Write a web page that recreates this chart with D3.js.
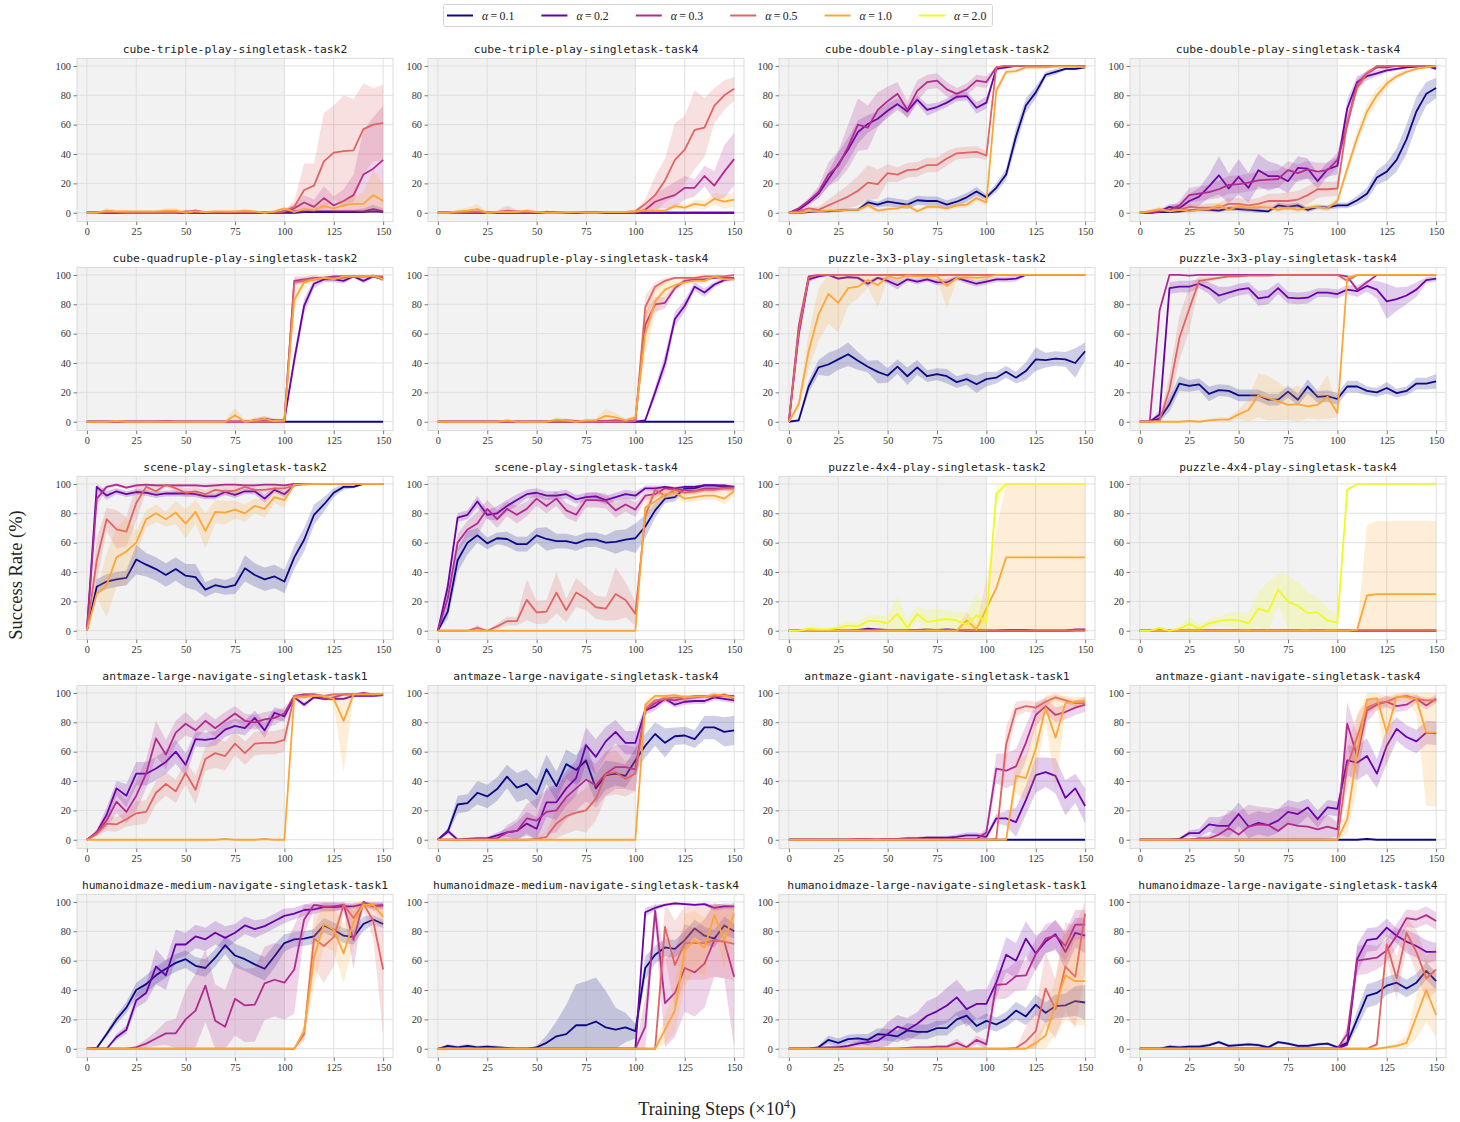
<!DOCTYPE html>
<html>
<head>
<meta charset="utf-8">
<script src="https://cdn.jsdelivr.net/npm/d3@7"></script>
<style>
  body { margin: 0; background: #ffffff; }
  svg { display: block; }
</style>
</head>
<body>
<svg id="fig" width="1460" height="1122"></svg>
<script>
// ---- shared axes content ----
const steps = [0,5,10,15,20,25,30,35,40,45, 50,55,60,65,70,75,80,85,90,95, 100,105,110,115,120,125,130,135,140,145, 150];
const alphaLabels = ["0.1","0.2","0.3","0.5","1.0","2.0"];
const seriesColors = ["#0d0887","#6a00a8","#b12a90","#e16462","#fca636","#f0f921"];
const xTicks = [0,25,50,75,100,125,150];
const yTicks = [0,20,40,60,80,100];
const panelTitles = [
  "cube-triple-play-singletask-task2","cube-triple-play-singletask-task4",
  "cube-double-play-singletask-task2","cube-double-play-singletask-task4",
  "cube-quadruple-play-singletask-task2","cube-quadruple-play-singletask-task4",
  "puzzle-3x3-play-singletask-task2","puzzle-3x3-play-singletask-task4",
  "scene-play-singletask-task2","scene-play-singletask-task4",
  "puzzle-4x4-play-singletask-task2","puzzle-4x4-play-singletask-task4",
  "antmaze-large-navigate-singletask-task1","antmaze-large-navigate-singletask-task4",
  "antmaze-giant-navigate-singletask-task1","antmaze-giant-navigate-singletask-task4",
  "humanoidmaze-medium-navigate-singletask-task1","humanoidmaze-medium-navigate-singletask-task4",
  "humanoidmaze-large-navigate-singletask-task1","humanoidmaze-large-navigate-singletask-task4"
];

// ---- success rate (%) per alpha: mean and std, one entry per step ----
// order inside each list: alpha 0.1, 0.2, 0.3, 0.5, 1.0, 2.0 (null = not run)

const cubeTriple2Mean = [
  [0,0,0,0,0,0,0,0,0,0, 0,0,0,0,0,0,0,0,0,0, 0,0,0.5,0.5,0.5,0.5,0.5,0.5,0.5,1, 0.5],
  [0,0,0,0,0,0,0,0,0,0, 0,1,0,0,0,0,0,0,0,0, 1,1,1,1,1,1,1,1,1,2.5, 1],
  [0,0,0,0,0,0,0,0,0,0, 0,1.5,0,0,0,0,0,0,0,0, 1,3,7,4,10,5,8,12,26,30, 36],
  [0,0,0.5,0.5,0,0,0,0,0,0, 1,1,0.5,0.5,0.5,0.5,0.5,0.5,0.5,0.5, 1,4,15.5,18.5,35,41,42,42.5,57,60, 61],
  [0,0,1.5,1,1,1,1,1,1.5,1.5, 0,1,0.5,1,1,1,1.5,1,0,1, 3,0.5,2.5,2,4.5,3,5,6,6,12, 8],
  null
];
const cubeTriple2Sd = [
  null,
  [0,0,0,0,0,0,0,0,0,0, 0,0,0,0,0,0,0,0,0,0, 0.5,1,1,1,1,1,1,1,2,3, 2],
  [0,0,0,0,0,0,0,0,0,0, 0,1,0,0,0,0,0,0,0,0, 1,3,5,5,8,6,8,14,30,35, 37],
  [0,0,0.5,0.5,0,0,0,0,0,0, 1,1,0,0,0,0,0,0,0,0, 1,4,18,15,33,32,38,35,31,25, 26],
  [0,0,1.5,1,1,0.5,0.5,0.5,1.5,1.5, 0.5,0.5,0.5,0.5,0.5,0.5,1,0.5,0.5,0.5, 1,1,1,1.5,2,2,4,5,8,17, 12],
  null
];

const cubeTriple4Mean = [
  [0,0,0,0,0,0,0,0,0,0, 0,0,0,0,0,0,0,0,0,0, 0,0,0,0,0,0,0,0,0,0, 0],
  [0,0,0,0,0,0,0,0,0,0, 0,0,0,0,0,0,0,0,0,0, 0,0,0,0,0,0,0,0,0,0, 0],
  [0,0,0,0,0,0,0,0,0,0, 0,0.5,0,0,0,0,0,0,0,0, 0,2,7.5,10,12,17,17,25,18.5,28, 36.5],
  [0,0,0,0.5,1,0,0.5,1.5,1,0.5, 0.5,0,0,0,0.5,0.5,0.5,0.5,0.5,0.5, 1,6,12,22,36,43,56.5,58,73,80, 84.5],
  [0,0,1,1.5,2.5,0,0.5,0.5,0.5,1.5, 0.5,0,0,0.5,0.5,0,0,0.5,0.5,0.5, 1,1.5,1.5,1.5,4.5,3.5,6,5,9.5,7.5, 9],
  null
];
const cubeTriple4Sd = [
  null,
  null,
  [0,0,0,0,0,0,0,0,0,0, 0,1,0,0,0,0,0,0,0,0, 0.5,2,5,7,9,8,6,7,10,18, 18],
  [0,0,0,0.5,1,0,1,3.5,1,0.5, 0.5,0,0,0,0.5,0.5,0.5,0.5,0.5,0.5, 1,3,13,15,25,23,27,20,12,10, 8],
  [0,0,1,2,3.5,0.5,0.5,0.5,0.5,1, 0.5,0,0,0.5,0.5,0,0,0.5,0.5,0.5, 1,1,1,1,2,2,3,3,4,5, 5],
  null
];

const cubeDouble2Mean = [
  [0,0,0.5,1,1,1.5,2,2,7,5.5, 7.5,6.5,5.5,8.5,8,8,5.5,7.5,10.5,14.5, 10.5,17,26,52,73,82,94,96,98,98, 99],
  [0,2,7,13,23,33,43,55,60.5,64, 69.5,74,69,77,70,72,75,79,79.5,71.5, 75,98,99,100,100,100,100,100,100,100, 100],
  [0,3,8,14,26,32,45,60,58,70, 76,81,70,83,89,90,84,81,84,90, 89,99,100,100,100,100,100,100,100,100, 100],
  [0,1,3,2,5,8,11,15,20.5,19.5, 27,26,29,29.5,32.5,32.5,37,40.5,41,41.5, 39,99,100,100,100,100,100,100,100,100, 100],
  [0,0,1,1,1.5,1.5,2,2,5,1.5, 2.5,3,5,1,4,4,3,5,5.5,10, 7,83,96,96.5,99,99,99,99.5,99.5,99.5, 99],
  null
];
const cubeDouble2Sd = [
  [0,0,0.5,0.5,0.5,1,1,1,2,2, 3,3,3,3,3,3,3,3,3,3, 2,3,4,6,5,4,2,2,1,1, 1],
  [0,1,2,3,5,8,8,8,6,5, 5,4,4,3,4,3,3,3,3,4, 4,1,1,0.5,0.5,0.5,0.5,0.5,0.5,0.5, 0.5],
  [0,1,2,4,8,10,15,18,15,12, 10,8,6,7,5,5,5,4,4,4, 4,1,0.5,0.5,0.5,0.5,0.5,0.5,0.5,0.5, 0.5],
  [0,1,1.5,2,4,6,8,10,12,10, 6,5,5,5,5,5,5,4,4,4, 3,1,0.5,0.5,0.5,0.5,0.5,0.5,0.5,0.5, 0.5],
  [0,0.5,1,1,1,1,1,1,2,1, 1,1,2,1,1.5,1.5,1.5,2,2,2, 2,3,2,2,1,1,1,0.5,0.5,0.5, 0.5],
  null
];

const cubeDouble4Mean = [
  [0,0,0.5,0.5,1,1.5,2,2,1.5,3, 2.5,2,1.5,1,5,4,5,2,4,3.5, 5,5,8.5,13,24,28,36,50,69,81, 85],
  [0,0,1,4,3,8,11,18,25.5,16.5, 24.5,17,29,25,25,21.5,30.5,30,21.5,29.5, 32,71,89,93,95,97,98,99,99.5,100, 98],
  [0,0,1,2,5,12,13,14,16,19, 19.5,20.5,22,22.5,23,29,27,29.5,28,29, 36,60,88,95,99,99,100,100,100,100, 99],
  [0,1,2,1.5,2,4,3.5,3.5,3.5,6, 6,5,6,8,8,8,9,12,16,16, 16.5,62,85,95,100,100,100,100,100,100, 100],
  [0,1,2.5,1,2,1,2,2.5,5,2, 4.5,3.5,4,3.5,2,3.5,2,3.5,4,3, 8,30,51,69,80,88,93,96,98,99, 100],
  null
];
const cubeDouble4Sd = [
  [0,0,0.5,0.5,1,1,1,1,1,1.5, 1.5,1.5,1.5,1,2,2,2,1.5,1.5,1.5, 2,2,3,4,5,6,8,10,10,8, 7],
  [0,0.5,1,2,3,5,6,8,13,10, 12,10,11,10,8,8,8,7,5,5, 6,6,4,3,2,1.5,1,1,0.5,0.5, 1],
  [0,0.5,1,2,3,5,5,5,6,6, 6,6,6,6,6,6,6,6,6,5, 5,5,3,2,1,1,0.5,0.5,0.5,0.5, 0.5],
  [0,1,1,1,1.5,2,2,3,3,4, 4,4,4,5,5,6,6,6,6,5, 5,5,3,2,1,0.5,0.5,0.5,0.5,0.5, 0.5],
  [0,1,1.5,1,1,1,1,1.5,2,1.5, 2,2,2,2,1.5,2,1.5,2,2,2, 2,4,5,5,5,3,2,1.5,1,1, 0.5],
  null
];

const cubeQuad2Mean = [
  [0,0,0,0,0,0,0,0,0,0, 0,0,0,0,0,0,0,0,0,0, 0,0,0,0,0,0,0,0,0,0, 0],
  [0,0,0,0,0,0,0,0,0,0, 0,0,0,0,0,0,0,1,2,1, 1,42,79,94,97,97,96,99,96,99, 97],
  [0,0,0,0,0,0,0,0,0.5,0, 0,0,0,0,0,0,0,0.5,1,0.5, 0.5,96,97,98,98,99,99,99,99,99.5, 98],
  [0,0,0,0,0,0,0,0,0,0, 0,0,0,0,0,0,0,0,0,0, 0,95,96,97,98,98,98,99,99,99, 99],
  [0,0,0,0.5,0,0,0,0,0,0, 0,0,0,0,0,4.5,0,1,2,0.5, 1,83,95,97,98,97,99,99,99,99.5, 97],
  null
];
const cubeQuad2Sd = [
  null,
  [0,0,0,0,0,0,0,0,0,0, 0,0,0,0,0,0,0,1,1.5,1, 1,5,5,3,2,2,2,1,2,1, 1.5],
  [0,0,0,0,0,0,0,0,0.5,0, 0,0,0,0,0,0,0,0.5,1,0.5, 0.5,3,2,2,1,1,1,1,1,1, 1],
  [0,0,0,0,0,0,0,0,0,0, 0,0,0,0,0,0,0,0,0,0, 0,2,2,1,1,1,1,1,1,1, 1],
  [0,0,0,0.5,0,0,0,0,0,0, 0,0,0,0,1,5,1,2,2,1, 1,6,3,2,1,1,1,1,1,0.5, 1],
  null
];

const cubeQuad4Mean = [
  [0,0,0,0,0,0,0,0,0,0, 0,0,0,0,0,0,0,0,0,0, 0,0,0,0,0,0,0,0,0,0, 0],
  [0,0,0,0,0,0,0,0,0,0, 0,0,0,0,0,0,0,0,0,0, 0,1,20,40,70,79,92,88,93.5,96.5, 97.5],
  [0,0,0,0,0,0,0,0,0,0, 0,0,0.5,1,0.5,0,0.5,0.5,1,0.5, 1,66,80,81,91,96,97,97,98,98, 98],
  [0,0,0,0,0,0,0,0,0,0, 0,0,0,0,0,0,0,0,0,0, 0.5,78,92,96,98,98,98,99,99,99, 100],
  [0,0,0,0,0,0,0,1,0,0, 0,0,1.5,1,0,1,1,4,3,1, 3,60,82,90,93,95,96,96,99,97, 97],
  null
];
const cubeQuad4Sd = [
  null,
  [0,0,0,0,0,0,0,0,0,0, 0,0,0,0,0,0,0,0,0,0, 0,1,4,6,5,4,3,3,2,1.5, 1],
  [0,0,0,0,0,0,0,0,0,0, 0,0,0.5,1,0.5,0,0.5,0.5,1,0.5, 1,8,5,4,2,1.5,1,1,1,1, 1],
  [0,0,0,0,0,0,0,0,0,0, 0,0,0,0,0,0,0,0,0,0, 0.5,8,3,2,1,1,1,1,1,1, 1],
  [0,0,0,0,0,0,0,1,0,0, 0,0,1.5,1,0,1,1,5,3,1, 2,15,10,5,3,2,2,2,1,1.5, 1.5],
  null
];

const puzzle3x3t2Mean = [
  [0,1,24,37,39,42.5,46,41.5,37.5,34, 31.5,37.5,31,37,31,32.5,31,27,29,25.5, 29,30,34,30,34.5,42.5,42,43,42.5,40, 48],
  [0,60,97,99,100,97.5,98.5,98,94,98, 96,93,97,95.5,97,95,95,98,96,94, 95.5,97,97,97.5,100,100,100,100,100,100, 100],
  [0,65,99,100,100,100,100,100,100,100, 100,100,100,100,100,100,100,100,100,100, 100,100,100,100,100,100,100,100,100,100, 100],
  [0,62,98,100,100,100,100,100,100,100, 100,100,100,100,100,100,100,100,100,100, 100,100,100,100,100,100,100,100,100,100, 100],
  [0,12,48,73,87,81,91,92,96.5,93, 99,97.5,99.5,99,99,99,92.5,98,98.5,98, 98.5,100,100,100,100,100,100,100,100,100, 100],
  null
];
const puzzle3x3t2Sd = [
  [0,1,4,5,8,7,8,6,4,8, 5,5,6,5,4,4,5,4,4,6, 5,4,4,4,6,8,5,5,5,10, 6],
  [0,5,2,1,0.5,1,1,1,2,1, 2,3,1.5,2,1.5,2,2,1.5,2,2, 2,2,2,2,0.5,0.5,0.5,0.5,0.5,0.5, 0.5],
  null,
  [0,10,1,0,0,0,0,0,0,0, 0,0,0,0,0,0,0,0,0,0, 0,0,0,0,0,0,0,0,0,0, 0],
  [0,3,12,18,20,20,12,8,5,15, 2,2,1,1,1,2,15,2,2,2, 2,0.5,0,0,0,0,0,0,0,0, 0],
  null
];

const puzzle3x3t4Mean = [
  [0,0,2,12,26,24.5,25.5,19,21.5,21, 18,18,18,15,15,20.5,15,24,17,17.5, 15.5,24,24,21,20,23,19.5,21,26,26, 27.5],
  [0,0,5,91,92,92,94,91,86,88, 90,91,84,85,91,84.5,84,84.5,88,88, 87,90,89,92.5,90,82,83.5,86,90,96.5, 97.5],
  [0,0,76,100,100,99.5,100,100,100,100, 100,100,100,100,100,100,100,100,100,100, 100,99,90,95,100,100,100,100,100,100, 100],
  [0,0,1,22,57,77,96,97,98,99, 99,99.5,99.5,99.5,100,100,100,100,100,100, 100,96,100,100,100,100,100,100,100,100, 100],
  [0,0,0,0,0,0.5,0,1,1.5,1.5, 5,8,18,16,14,11.5,12,10.5,11.5,17, 6,98,100,100,100,100,100,100,100,100, 100],
  null
];
const puzzle3x3t4Sd = [
  [0,0.5,2,5,5,4,4,5,4,4, 4,4,4,4,4,4,4,5,4,4, 4,4,4,3,3,4,3,3,4,4, 5],
  [0,0,3,4,4,4,3,4,6,4, 4,4,5,5,4,4,4,4,3,3, 3,3,4,4,6,12,8,6,5,2, 2],
  null,
  [0,0,1,10,15,15,3,2,1,1, 1,0.5,0.5,0.5,0,0,0,0,0,0, 0,2,0,0,0,0,0,0,0,0, 0],
  [0,0,0,0,0,0.5,0.5,1,1.5,1.5, 3,8,15,15,13,10,13,8,10,15, 3,2,0.5,0,0,0,0,0,0,0, 0],
  null
];

const scene2Mean = [
  [0,30,33.5,35,36,48.5,45,42,38,42, 37.5,36.5,28,31,29.5,31,42.5,38,35,37, 33.5,50,62,79,86,94,98,98,100,100, 100],
  [0,98,92,95,93,94.5,94,92.5,93.5,93.5, 93.5,93,91.5,91.5,94.5,92.5,95,95,90,96, 93,99,100,100,100,100,100,100,100,100, 100],
  [0,90,98,99.5,97.5,99,99.5,99,99,99, 99,99,98.5,99,99.5,99.5,99,99,99.5,99.5, 99,100,100,100,100,100,100,100,100,100, 100],
  [0,48,76,69,67.5,87,98,95,99.5,97, 94,95,93,96,95,95.5,98,96,96,97, 97,99,100,100,100,100,100,100,100,100, 100],
  [0,25,31,50,54,60,76,80,76,80.5, 73,81,68,81,80.5,82.5,80,85,83,91, 89,99.5,99.5,100,100,100,100,100,100,100, 100],
  null
];
const scene2Sd = [
  [0,5,5,5,5,10,8,8,8,8, 8,9,5,5,5,6,9,8,8,8, 8,8,8,7,5,3,2,1,0.5,0.5, 0.5],
  [0,2,3,2,2,2,2,2,2,2, 2,2,2,2,2,2,2,2,3,2, 2,1,0.5,0.5,0.5,0.5,0.5,0.5,0.5,0.5, 0.5],
  [0,5,1,1,1,1,1,1,1,1, 1,1,1,1,1,1,1,1,1,1, 1,0.5,0.5,0.5,0.5,0.5,0.5,0.5,0.5,0.5, 0.5],
  [0,15,8,13,10,12,3,3,1,3, 3,3,3,3,3,3,2,2,2,2, 2,1,0.5,0.5,0.5,0.5,0.5,0.5,0.5,0.5, 0.5],
  [0,2,22,20,23,8,6,6,5,8, 10,8,12,8,8,6,6,5,6,4, 5,0.5,0.5,0.5,0.5,0.5,0.5,0.5,0.5,0.5, 0.5],
  null
];

const scene4Mean = [
  [0,13,48,60,65,59.5,63,62.5,59,59, 65,62.5,61,61,59.5,62,62,60,60.5,62, 63,71,82,90,91,97,97,99,99,98, 98],
  [0,30,77,79,88,79,80,85,89,93, 94,92,92,93,89.5,91,91.5,89,91,93, 92,97,97,98,97,98,98,99,99,99, 98],
  [0,22,60,69,73,83,76,83,79,83, 90,85,90,82,79,89,89,88.5,82,86, 82.5,92,93,97,96,96,95,97,97,97, 97],
  [0,0,0,0,2,0,3,6.5,6.5,21, 12.5,13,26,14,26,22,16,15,25,21, 11.5,78,96,92,96,94,95,96,96,97, 97],
  [0,0,0,0,0,0,0,0,0,0, 0,0,0,0,0,0,0,0,0,0, 0,84,88,93,94,90,91,92,92,90, 95],
  null
];
const scene4Sd = [
  [0,5,8,8,5,4,4,5,5,5, 5,8,5,5,5,5,5,5,8,7, 10,8,5,3,3,2,2,1,1,1, 1],
  [0,5,3,3,4,3,5,4,4,3, 3,3,3,3,3,3,3,3,3,3, 3,2,2,1,1,1,1,1,1,1, 1],
  [0,6,6,6,8,6,6,5,6,5, 5,5,5,5,5,5,5,5,5,5, 5,3,3,2,2,2,2,2,2,2, 2],
  [0,0,0,0,2,0,2,3,3,14, 8,8,14,8,10,8,8,8,18,12, 8,5,3,3,2,2,2,2,2,2, 2],
  [0,0,0,0,0,0,0,0,0,0, 0,0,0,0,0,0,0,0,0,0, 0,8,5,3,3,3,3,3,3,4, 3],
  null
];

const puzzle4x4t2Mean = [
  [0,0,0,0,0,0,0,0,0.5,0.5, 0.5,0.5,0.5,0,0,0,0.5,0.5,0,0, 0,0,0,0,0,0,0,0,0,0.5, 0.5],
  [0,0,0,0,0,0,0,0.5,1.5,1, 0.5,0.5,0.5,0.5,0.5,0.5,1,0.5,0.5,0.5, 0,0,0.5,0.5,0.5,0,0,0,0,1, 1],
  [0,0,0,0,0,0,0,0,0.5,0.5, 0.5,0.5,0.5,0.5,1,0.5,0.5,0.5,0.5,0.5, 0,0,0,0,0,0,0,0,0,0.5, 0.5],
  [0,0,0,0,0,0,0,0,0,0, 0,0,0,0,0,0,0,0,0,0, 0,0,0,0,0,0,0,0,0,0, 0],
  [0,0,0,0,0,0,0,0,0,0, 0,0,0,0,0,0,0,0,7,1, 15,29,50,50,50,50,50,50,50,50, 50],
  [0,0,1.5,1,1,2,3.5,3,6.5,6.5, 5,11.5,2,11.5,6,7,8,7,4,10.5, 6,93,100,100,100,100,100,100,100,100, 100]
];
const puzzle4x4t2Sd = [
  null, null, null, null,
  [0,0,0,0,0,0,0,0,0,0, 0,0,0,0,0,0,0,1,6,3, 20,40,50,50,50,50,50,50,50,50, 50],
  [0,0,1.5,1,1,2,3,3,4,4, 5,12,5,5,8,8,6,6,8,15, 8,10,0.5,0,0,0,0,0,0,0, 0]
];

const puzzle4x4t4Mean = [
  [0,0,0,0,0,0,0,0,0,0, 0,0,0,0,0,0,0,0,0,0, 0,0,0,0,0,0,0,0,0,0, 0],
  [0,0,0,0,0,0,0,0,0,0, 0,0,0,0,0,0,0,0,0,0, 0,0,0,0,0,0,0,0,0,0, 0],
  [0,0,0,0,0,0,0,0,0,0, 0,0,0,0,0,0,0,0,0,0, 0,0,0,0,0,0,0,0,0,0, 0],
  [0,0,0,0,0,0,0,0,0,0, 0,0,0,0,0,0,0,0,0,0, 0,0,0,0,0,0,0,0,0,0, 0],
  [0,0,0,0,0,0,0,0,0,0, 0,0,0,0,0,0,0,0,0,0, 0,0,0.7,24,25,25,25,25,25,25, 25],
  [0,0,2,0,1.5,4.5,1.5,5,6.5,7.5, 7,5,15,13,28,20,17,12,12.5,7, 5.5,96,100,100,100,100,100,100,100,100, 100]
];
const puzzle4x4t4Sd = [
  null, null, null, null,
  [0,0,0,0,0,0,0,0,0,0, 0,0,0,0,0,0,0,0,0,0, 0,0,0.5,48,50,50,50,50,50,50, 50],
  [0,0,1,0.5,1,5,3,3,3,5, 6,7,12,20,11,18,16,14,10,8, 6,2,0,0,0,0,0,0,0,0, 0]
];

const antLarge1Mean = [
  null,
  [0,5,17,35,30,45,45,48.5,53,60, 51,68.5,68,69,75,77.5,76,83,74.5,86.5, 84,97,92,97,96,96,96,98,98,98, 98.5],
  [0,5,13,26,19,30,45,69,58,73, 79,74.5,81,76,81,86,81,80,82,83, 86,98,99,99,96,97,99,99,100,99, 99],
  [0,4,11,10.5,14,18,19,32,38,33, 45.5,34,55,59,57,65.5,59,65.5,66,66, 68,98,98,99,98,99,99,99,99,99, 99],
  [0,0,0,0,0,0,0,0,0,0, 0,0,0,0,0.5,0,0,0,0.5,0, 0,97,97,98,98,96,81,99,99,99, 99.5],
  null
];
const antLarge1Sd = [
  null,
  [0,2,5,5,8,8,8,8,8,8, 8,5,5,5,5,5,5,5,5,4, 4,1,2,1,1,1,1,1,1,1, 1],
  [0,2,5,8,8,10,10,12,10,8, 8,6,6,6,6,5,5,5,5,5, 4,1,1,1,1,1,1,1,1,1, 1],
  [0,2,5,5,5,8,8,8,8,8, 8,10,8,10,10,8,8,8,8,8, 8,1,1,1,1,1,1,1,1,1, 1],
  [0,0,0,0,0,0,0,0,0,0, 0,0,0,0,0.5,0,0,0,0.5,0, 0,2,2,1,1,3,35,1,1,1, 1],
  null
];

const antLarge4Mean = [
  [0,5.5,24,25,32,29.5,34.5,43,35.5,38, 31,48,36.5,51.5,47.5,54,35,44,45,43.5, 54,64,72,66,70.5,71,68.5,76.5,76.5,73.5, 74.5],
  [0,6,0,0.5,1,1,3,5,6,11, 7.5,25.5,25.5,35,42,64.5,56.5,67,73.5,66, 66,88,91,96,92,94,94.5,94.5,97,96, 95],
  [0,0,0,0,0.5,0.5,1,5,6,14.5, 13,19,20,29,35,41,37,45,49.5,49.5, 48,89,93,96,95,96.5,97,97.5,98,98, 98],
  [0,0,0,0,0,0,0,0,0,0, 0.5,2,11,16,18.5,20,28,44.5,46,41.5, 45,89,95,96,97,96.5,98,98,97.5,99, 96],
  [0,0,0,0,0,0,0,0,0,0, 0,0,0,0,0,0,0,0,0,0, 0,92,98,98,98.5,97,97.5,97.5,99,98, 97],
  null
];
const antLarge4Sd = [
  [0,2,6,6,8,8,8,8,10,10, 10,10,10,10,10,12,10,10,8,8, 8,8,8,10,6,6,6,8,8,10, 10],
  [0,2,1,1,1,1,2,3,6,8, 8,10,12,12,12,12,12,10,8,8, 8,3,3,2,2,2,2,2,2,2, 2],
  [0,0,0,0,0.5,0.5,1,5,8,10, 15,15,15,15,15,15,15,15,15,15, 15,3,2,2,2,2,1,1,1,1, 1],
  [0,0,0,0,0,0,0,0,0,0, 1,3,10,12,12,15,15,15,15,12, 12,3,2,2,2,2,1,1,1,1, 2],
  [0,0,0,0,0,0,0,0,0,0, 0,0,0,0,0,0,0,0,0,0, 0,3,1,1,1,1,1,1,1,1, 1],
  null
];

const antGiant1Mean = [
  [0,0,0,0,0,0,0,0,0,0, 0,0,0,0,0,0,0,0,0,0, 0,0,0,0,0,0,0,0,0,0, 0],
  [0,0,0,0,0,0,0,0,0,0, 0.5,0.5,1,1,1.5,1.5,1.5,2,3,3, 2,14.5,14.5,12,27,44,46,43.5,28.5,35, 23],
  [0,0,0,0,0,0,0,0.5,0.5,0, 0.5,0.5,0.5,0.5,0.5,0.5,0.5,0.5,0.5,0.5, 5,48.5,47,50,66,85,91,85,87,90, 92],
  [0,0,0,0,0,0,0,0,0,0, 0,0,0,0,0,0,0,0,0,0, 0,0.5,65,89,91,90,94,97,95,93, 93],
  [0,0,0,0,0,0,0,0,0,0, 0,0,0,0,0,0,0,0,0,0, 0,0,0,43.5,42,62,90,69.5,93,94, 94.5],
  null
];
const antGiant1Sd = [
  null,
  [0,0,0,0,0,0,0,0,0,0, 0.5,0.5,1,1,1,1,1,1.5,2,2, 2,3,5,10,10,12,10,12,12,10, 12],
  [0,0,0,0,0,0,0,0.5,0.5,0, 0.5,0.5,0.5,0.5,0.5,0.5,0.5,0.5,0.5,0.5, 3,10,12,12,12,8,5,5,5,5, 5],
  [0,0,0,0,0,0,0,0,0,0, 0,0,0,0,0,0,0,0,0,0, 0,0.5,12,5,4,4,3,2,2,2, 2],
  [0,0,0,0,0,0,0,0,0,0, 0,0,0,0,0,0,0,0,0,0, 0,0,0,12,15,20,8,35,5,3, 3],
  null
];

const antGiant4Mean = [
  [0,0,0,0,0,0,0,0,0,0, 0,0,0,0,0,0,0,0,0,0, 0,0,0,0.5,0,0,0,0,0,0, 0],
  [0,0,0,0,0.5,4.5,4.5,10.5,9.5,9.5, 17.5,9,11.5,10,13,19,17.5,22,14,22, 21,54,52.5,57,45,64,75.5,70,67,73, 72.5],
  [0,0,0,0,0,0,1,1,3.5,8, 3.5,9,10.5,10,6,11,9.5,9,7,9, 7,79,57,88,92,94,91,92,96,91.5, 96],
  [0,0,0,0,0,0,0,0,0,0, 0,0,0,0,0,0,0,0,0,0, 0,50,70,90,93,94,97,98,96,95, 95],
  [0,0,0,0,0,0,0,0,0,0, 0,0,0,0,0,0,0,0,0,0, 0,14,60,95.5,96.5,73,97.5,97,96,73, 73],
  null
];
const antGiant4Sd = [
  null,
  [0,0,0,0,0.5,2,3,5,6,8, 8,8,8,8,8,8,8,6,6,5, 5,10,12,12,10,12,8,8,8,8, 8],
  [0,0,0,0,0,0,1,2,8,12, 15,15,12,12,15,12,12,10,8,8, 5,15,15,8,4,4,4,4,3,3, 3],
  [0,0,0,0,0,0,0,0,0,0, 0,0,0,0,0,0,0,0,0,0, 0,15,15,5,3,3,2,2,2,2, 2],
  [0,0,0,0,0,0,0,0,0,0, 0,0,0,0,0,0,0,0,0,0, 0,10,25,10,5,25,3,3,10,50, 50],
  null
];

const humMedium1Mean = [
  [0,0.5,10,20,28,40,44,50,54.5,58.5, 61,56.5,55,62,70.5,63.5,61,57.5,54.5,63, 72,74.5,75,76.5,84,81,77,76,85,88, 85],
  [0,0,0,8,13,33,38,56,50,71, 71,76.5,74.5,79,75.5,79,84,81.5,83.5,87, 90.5,92,94.5,95,96.5,96.5,97,97,98.5,97.5, 97.5],
  [0,0,0,0,0,1,3.5,7,10.5,10.5, 20,26,43,19,15,34,29.5,30,44.5,47, 45,54,88,98,97,97,98,74,100,97, 98],
  [0,0,0,0,0,0,0,0,0,0, 0,0,0,0,0,0,0,0,0,0, 0,0,10,75,70,76,98,89,99,87, 54],
  [0,0,0,0,0,0,0,0,0,0, 0,0,0,0,0,0,0,0,0,0, 0,0,12,62,85,81,65,86,98,98, 90],
  null
];
const humMedium1Sd = [
  [0,0.5,2,3,4,5,6,6,6,6, 6,6,6,6,6,8,8,8,8,8, 6,5,5,5,5,5,5,5,5,3, 3],
  [0,0,0,2,3,5,6,12,10,10, 8,8,8,8,8,6,6,6,5,5, 5,4,4,3,3,3,2,2,2,2, 2],
  [0,0,0,0,0,1,3,5,8,10, 20,25,25,25,25,25,25,25,25,25, 25,30,10,3,3,3,3,20,2,3, 3],
  [0,0,0,0,0,0,0,0,0,0, 0,0,0,0,0,0,0,0,0,0, 0,0,5,20,25,20,5,10,5,12, 45],
  [0,0,0,0,0,0,0,0,0,0, 0,0,0,0,0,0,0,0,0,0, 0,0,5,20,15,15,20,15,3,3, 5],
  null
];

const humMedium4Mean = [
  [0,2,1,2,1,1.5,1,0.5,0,0, 1,4,8.5,10,16,16,18.5,14.5,13,14.5, 12,55,64,69,68,74,82,77,75,84, 80],
  [0,0,0,0,0,0,0,0,0,0, 0,0,0,0,0,0,0,0,0,0, 0,93,96,98,99,98.5,98,98.5,96,97, 97],
  [0,0,0,0,0,0,0,0,0,0, 0,0,0,0,0,0,0,0,0,0, 0,15,94,31,38,55,52,58,74,73, 49],
  [0,0,0,0,0,0,0,0,0,0, 0,0,0,0,0,0,0,0,0,0, 0,0,0,83,57,72,72,72,74,73, 71.5],
  [0,0,0,0,0,0,0,0,0,0, 0,0,0,0,0,0,0,0,0,0, 0,0,0,13,26,67,74,69,91,74, 92],
  null
];
const humMedium4Sd = [
  [0,1,1,1,1,1,1,0.5,0,0, 1,5,10,20,28,30,30,25,15,10, 5,8,6,6,6,6,6,6,6,6, 5],
  [0,0,0,0,0,0,0,0,0,0, 0,0,0,0,0,0,0,0,0,0, 0,3,2,1,1,1,1,1,2,2, 2],
  [0,0,0,0,0,0,0,0,0,0, 0,0,0,0,0,0,0,0,0,0, 0,20,10,30,30,30,30,30,25,25, 48],
  [0,0,0,0,0,0,0,0,0,0, 0,0,0,0,0,0,0,0,0,0, 0,0,0,20,30,25,25,25,25,25, 25],
  [0,0,0,0,0,0,0,0,0,0, 0,0,0,0,0,0,0,0,0,0, 0,0,0,10,15,25,20,20,8,20, 8],
  null
];

const humLarge1Mean = [
  [0,0,0,1,6,4,6.5,7,6,10, 9.5,8.5,12.5,11.5,11.5,14,14,20,22.5,15.5, 19,16.5,20,26,22,30,24.5,29,29.5,32.5, 31.5],
  [0,0,0,0.5,1,1,2,3.5,4.5,5.5, 10,15,13,17,22.5,25.5,29.5,35,27,30.5, 30.5,45,64,60,75,65,73,78,66,79, 77],
  [0,0,0,0,0,0,0,0,0,0, 0,0,0.5,1,1,1.5,1.5,4,1,6, 3,43.5,44,49.5,50,64.5,75,77,70,84.5, 84.5],
  [0,0,0,0,0,0,0,0,0,0, 0,0,0,0,0,0,0,0,0,0, 0,0,0,0.5,5,12,41,27,56,49, 92],
  [0,0,0,0,0,0,0,0,0,0, 0,0,0,0,0,0,0,0,0,0, 0,0,0,0,0,4,9,30,50,46, 46],
  null
];
const humLarge1Sd = [
  [0,0,0,1,3,3,3,3,4,4, 4,4,5,5,5,5,5,5,5,5, 5,5,5,6,6,7,7,8,8,10, 12],
  [0,0,0,0.5,1,1,1,2,3,5, 8,8,8,8,10,10,12,12,12,10, 10,10,12,12,12,12,8,10,12,10, 12],
  [0,0,0,0,0,0,0,0,0,0, 0,0,0.5,1,1,1,1,3,1,3, 3,10,10,10,10,10,10,10,10,10, 10],
  [0,0,0,0,0,0,0,0,0,0, 0,0,0,0,0,0,0,0,0,0, 0,0,0,0,10,15,25,20,30,35, 40],
  [0,0,0,0,0,0,0,0,0,0, 0,0,0,0,0,0,0,0,0,0, 0,0,0,0,0,4,10,20,30,30, 30],
  null
];

const humLarge4Mean = [
  [0,0,0,1.5,1,1.5,1.5,2.5,4.5,2, 2.5,3,2.5,1,4.5,3.5,2,2,3,3.5, 1,4,20,36,38,43,45,41,45,53, 46],
  [0,0,0,0,0,0,0,0,0,0, 0,0,0,0,0,0,0,0,0,0, 0,3,61,74,75,82.5,77,73,70,66, 66],
  [0,0,0,0,0,0,0,0,0,0, 0,0,0,0,0,0,0,0,0,0, 0,10,60,61,62,67,77,89,88,91, 87],
  [0,0,0,0,0,0,0,0,0,0, 0,0,0,0,0,0,0,0,0,0, 0,0,0,0,3,71,48,79,66,48, 54],
  [0,0,0,0,0,0,0,0,0,0, 0,0,0,0,0,0,0,0,0,0, 0,0,0,0,0,1,2,4,22,40, 23],
  null
];
const humLarge4Sd = [
  [0,0,0,1,1,1,1,1,1,1, 1,1,1,1,1,1,1,1,1,1, 1,2,6,8,8,6,6,6,6,6, 6],
  [0,0,0,0,0,0,0,0,0,0, 0,0,0,0,0,0,0,0,0,0, 0,2,10,8,8,6,5,8,8,8, 6],
  [0,0,0,0,0,0,0,0,0,0, 0,0,0,0,0,0,0,0,0,0, 0,5,10,10,8,8,8,6,6,6, 6],
  [0,0,0,0,0,0,0,0,0,0, 0,0,0,0,0,0,0,0,0,0, 0,0,0,0,2,8,15,10,15,15, 15],
  [0,0,0,0,0,0,0,0,0,0, 0,0,0,0,0,0,0,0,0,0, 0,0,0,0,0,1,2,5,15,22, 15],
  null
];

const panelMeans = [
  cubeTriple2Mean, cubeTriple4Mean, cubeDouble2Mean, cubeDouble4Mean,
  cubeQuad2Mean, cubeQuad4Mean, puzzle3x3t2Mean, puzzle3x3t4Mean,
  scene2Mean, scene4Mean, puzzle4x4t2Mean, puzzle4x4t4Mean,
  antLarge1Mean, antLarge4Mean, antGiant1Mean, antGiant4Mean,
  humMedium1Mean, humMedium4Mean, humLarge1Mean, humLarge4Mean
];
const panelSds = [
  cubeTriple2Sd, cubeTriple4Sd, cubeDouble2Sd, cubeDouble4Sd,
  cubeQuad2Sd, cubeQuad4Sd, puzzle3x3t2Sd, puzzle3x3t4Sd,
  scene2Sd, scene4Sd, puzzle4x4t2Sd, puzzle4x4t4Sd,
  antLarge1Sd, antLarge4Sd, antGiant1Sd, antGiant4Sd,
  humMedium1Sd, humMedium4Sd, humLarge1Sd, humLarge4Sd
];

// ---- layout ----
const svg = d3.select("#fig");
const defs = svg.append("defs");
const plotW = 316, plotH = 163.4;
const colX0 = 77, colStep = 351, rowY0 = 58.3, rowStep = 209;
const xDomain = [-5, 155], yDomain = [-6.1, 105.2];
const serif = "'Liberation Serif','Times New Roman',serif";
const mono = "'DejaVu Sans Mono',monospace";

svg.append("rect").attr("width", 1460).attr("height", 1122).attr("fill", "#ffffff");

panelTitles.forEach((title, i) => {
  const col = i % 4, row = Math.floor(i / 4);
  const left = colX0 + col * colStep, top = rowY0 + row * rowStep;
  const x = d3.scaleLinear().domain(xDomain).range([left, left + plotW]);
  const y = d3.scaleLinear().domain(yDomain).range([top + plotH, top]);
  const g = svg.append("g");

  defs.append("clipPath").attr("id", "clip" + i)
    .append("rect").attr("x", left).attr("y", top).attr("width", plotW).attr("height", plotH);

  // offline phase (steps < 100) shaded
  g.append("rect").attr("x", left).attr("y", top)
    .attr("width", x(100) - left).attr("height", plotH).attr("fill", "#f2f2f2");

  // grid
  g.append("g").selectAll("line").data(xTicks).join("line")
    .attr("x1", d => x(d)).attr("x2", d => x(d))
    .attr("y1", top).attr("y2", top + plotH)
    .attr("stroke", "#dcdcdc").attr("stroke-width", 0.9);
  g.append("g").selectAll("line").data(yTicks).join("line")
    .attr("x1", left).attr("x2", left + plotW)
    .attr("y1", d => y(d)).attr("y2", d => y(d))
    .attr("stroke", "#dcdcdc").attr("stroke-width", 0.9);

  // curves with std bands
  const plot = g.append("g").attr("clip-path", `url(#clip${i})`);
  const means = panelMeans[i], sds = panelSds[i];
  means.forEach((m, k) => {
    if (!m) return;
    const sd = sds[k];
    if (sd) {
      const band = d3.area()
        .x((d, j) => x(steps[j]))
        .y0((d, j) => y(Math.max(0, d - sd[j])))
        .y1((d, j) => y(Math.min(100, d + sd[j])));
      plot.append("path").datum(m).attr("d", band)
        .attr("fill", seriesColors[k]).attr("fill-opacity", 0.2).attr("stroke", "none");
    }
    const line = d3.line().x((d, j) => x(steps[j])).y(d => y(d));
    plot.append("path").datum(m).attr("d", line)
      .attr("fill", "none").attr("stroke", seriesColors[k])
      .attr("stroke-width", 1.8).attr("stroke-linejoin", "round");
  });

  // frame
  g.append("rect").attr("x", left).attr("y", top).attr("width", plotW).attr("height", plotH)
    .attr("fill", "none").attr("stroke", "#d2d2d2").attr("stroke-width", 0.8);

  // axes
  const xa = g.append("g").attr("transform", `translate(0,${top + plotH})`)
    .call(d3.axisBottom(x).tickValues(xTicks).tickSize(3.5).tickSizeOuter(0).tickPadding(2.5));
  const ya = g.append("g").attr("transform", `translate(${left},0)`)
    .call(d3.axisLeft(y).tickValues(yTicks).tickSize(3.5).tickSizeOuter(0).tickPadding(2.5));
  [xa, ya].forEach(a => {
    a.select(".domain").remove();
    a.selectAll(".tick line").attr("stroke", "#555").attr("stroke-width", 0.8);
    a.selectAll(".tick text").attr("fill", "#333").style("font-family", serif).style("font-size", "10.3px");
  });

  // title
  g.append("text").attr("x", left + plotW / 2).attr("y", top - 5.5)
    .attr("text-anchor", "middle").attr("fill", "#222")
    .style("font-family", mono).style("font-size", "11.3px")
    .text(title);
});

// ---- legend ----
const legend = svg.append("g");
legend.append("rect").attr("x", 443.5).attr("y", 4.5).attr("width", 549).attr("height", 22)
  .attr("rx", 2).attr("fill", "#ffffff").attr("stroke", "#cccccc").attr("stroke-width", 0.8);
alphaLabels.forEach((lab, k) => {
  const x0 = 447 + k * 94.4;
  legend.append("line").attr("x1", x0).attr("x2", x0 + 26).attr("y1", 15.5).attr("y2", 15.5)
    .attr("stroke", seriesColors[k]).attr("stroke-width", 2);
  const t = legend.append("text").attr("x", x0 + 35).attr("y", 19.5).attr("fill", "#222")
    .style("font-family", serif).style("font-size", "11.8px");
  t.append("tspan").style("font-style", "italic").text("α");
  t.append("tspan").text("\u2009=\u2009" + lab);
});

// ---- shared axis labels ----
const xl = svg.append("text").attr("x", 717).attr("y", 1115).attr("text-anchor", "middle")
  .attr("fill", "#222").style("font-family", serif).style("font-size", "18.3px");
xl.append("tspan").text("Training Steps (×10");
xl.append("tspan").attr("dy", -7.5).style("font-size", "11.5px").text("4");
xl.append("tspan").attr("dy", 7.5).text(")");

svg.append("text").attr("transform", "translate(22,575) rotate(-90)").attr("text-anchor", "middle")
  .attr("fill", "#222").style("font-family", serif).style("font-size", "18.5px")
  .text("Success Rate (%)");
</script>
</body>
</html>
